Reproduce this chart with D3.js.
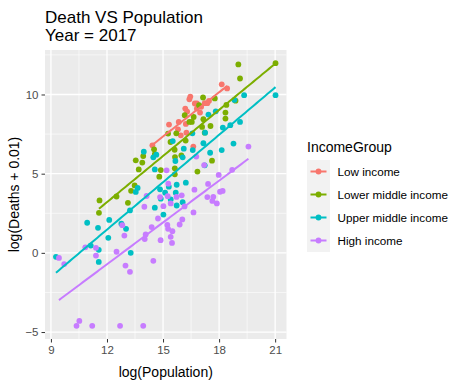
<!DOCTYPE html>
<html>
<head>
<meta charset="utf-8">
<script src="https://cdn.jsdelivr.net/npm/d3@7"></script>
<style>
  body { margin: 0; background: #fff; }
  text { font-family: "Liberation Sans", Arial, sans-serif; }
</style>
</head>
<body>
<div id="chart"></div>
<script>
// groups, in legend order
var groups = ["Low income", "Lower middle income", "Upper middle income", "High income"];
var colors = ["#F8766D", "#7CAE00", "#00BFC4", "#C77CFF"];

// log(Population), log(Deaths + 0.01)
var lowX = [18.14, 18.43, 16.46, 16.41, 16.70, 16.81, 17.23, 17.37, 17.04, 16.19, 16.29,
            16.81, 16.98, 15.84, 15.32, 16.22, 15.80, 16.25, 15.95, 14.43, 16.62, 17.46];
var lowY = [10.64, 10.38, 9.87, 9.70, 9.43, 9.43, 9.45, 9.45, 9.22, 9.11, 8.92,
            9.11, 8.86, 8.27, 8.10, 8.14, 7.80, 7.59, 7.42, 6.79, 6.71, 9.60];

var lmX = [19.03, 21.02, 19.12, 17.14, 17.77, 18.88, 16.93, 18.39, 18.34, 18.34, 16.16,
           16.64, 16.41, 16.54, 17.16, 17.54, 17.09, 17.23, 15.27, 15.71, 16.21, 15.40,
           14.52, 15.62, 13.54, 13.94, 13.89, 13.70, 15.64, 15.98, 15.63, 14.80, 17.62,
           16.84, 13.48, 13.29, 12.51, 11.60, 13.12, 11.57, 14.56, 14.88, 15.63];
var lmY = [11.90, 11.98, 11.01, 9.81, 9.75, 9.61, 9.32, 9.34, 8.86, 8.48, 8.69,
           8.58, 8.27, 8.27, 8.44, 8.01, 7.95, 7.59, 7.53, 7.55, 7.09, 7.00,
           6.54, 6.51, 5.84, 6.11, 5.70, 5.27, 6.05, 6.16, 5.34, 4.81, 5.82,
           5.13, 4.26, 3.92, 3.56, 3.31, 3.16, 2.53, 6.24, 5.23, 4.96];

var umX = [21.02, 19.34, 18.82, 17.82, 17.43, 19.12, 18.60, 18.20, 17.25, 16.57, 15.52,
           18.77, 17.16, 16.11, 16.59, 18.14, 17.52, 13.97, 14.64, 14.48, 16.05, 15.66,
           17.23, 14.56, 16.22, 15.73, 13.64, 13.54, 14.84, 15.11, 15.41, 14.88, 15.68,
           15.31, 15.73, 16.05, 13.23, 14.56, 15.02, 10.94, 12.12, 11.52, 12.77, 13.02,
           12.07, 11.13, 11.56, 13.27, 11.56, 9.27];
var umY = [9.96, 9.96, 9.66, 8.94, 8.73, 8.27, 8.06, 7.91, 7.59, 7.55, 7.06,
           6.90, 6.92, 6.58, 6.49, 6.49, 6.32, 6.39, 6.20, 6.03, 6.03, 5.80,
           5.53, 5.27, 4.43, 4.30, 4.10, 3.85, 4.01, 3.80, 3.37, 3.42, 3.80,
           4.18, 2.99, 3.20, 2.68, 2.85, 2.42, 1.90, 2.08, 1.58, 1.84, 1.52,
           0.95, 0.46, 0.19, 0.00, -0.57, -0.25];

var hiX = [19.57, 18.70, 17.98, 17.41, 16.78, 15.19, 15.28, 16.68, 18.05, 18.19, 17.69,
           17.37, 17.64, 17.88, 14.12, 15.72, 16.00, 15.25, 14.84, 17.20, 14.00, 15.02,
           15.41, 16.15, 16.63, 14.73, 16.03, 15.89, 15.23, 15.27, 15.50, 15.41, 14.39,
           14.07, 14.02, 14.87, 15.48, 12.82, 12.93, 12.51, 11.41, 11.41, 10.84, 9.43,
           9.71, 14.48, 12.99, 13.23, 10.37, 10.52, 11.21, 12.70, 13.94];
var hiY = [6.71, 5.24, 4.92, 4.35, 6.08, 5.21, 4.37, 3.99, 3.86, 3.91, 3.54,
           3.52, 3.28, 3.12, 3.59, 3.53, 3.63, 3.58, 3.52, 5.54, 2.91, 2.95,
           3.12, 2.93, 2.55, 2.17, 2.11, 1.79, 1.76, 1.52, 1.37, 1.01, 1.63,
           1.16, 0.87, 0.80, 0.63, 1.75, 1.09, 0.07, 0.32, -0.17, 0.35, -0.32,
           -0.71, -0.50, -0.80, -1.20, -4.61, -4.30, -4.61, -4.61, -4.61];

var xTicks = [9, 12, 15, 18, 21];
var yTicks = [-5, 0, 5, 10];

var seriesX = [lowX, lmX, umX, hiX];
var seriesY = [lowY, lmY, umY, hiY];

var data = [];
groups.forEach(function(g, i) {
  seriesX[i].forEach(function(v, j) {
    data.push({ g: i, x: v, y: seriesY[i][j] });
  });
});

var W = 468, H = 384;
var margin = {top: 50, left: 45, right: 181.5, bottom: 45};
var width = W - margin.left - margin.right,
    height = H - margin.top - margin.bottom;

var svg = d3.select("#chart").append("svg")
    .attr("width", W).attr("height", H);

// ggplot-like 5% expansion
function expand(ext) {
  var d = (ext[1] - ext[0]) * 0.05;
  return [ext[0] - d, ext[1] + d];
}
var x = d3.scaleLinear().domain(expand(d3.extent(data, d => d.x))).range([0, width]);
var y = d3.scaleLinear().domain(expand(d3.extent(data, d => d.y))).range([height, 0]);

var g = svg.append("g").attr("transform", "translate(" + margin.left + "," + margin.top + ")");

g.append("rect").attr("width", width).attr("height", height).attr("fill", "#EBEBEB");

// minor grid
var xMinor = d3.range(xTicks.length - 1).map(i => (xTicks[i] + xTicks[i + 1]) / 2)
  .concat([xTicks[0] - 1.5, xTicks[xTicks.length - 1] + 1.5])
  .filter(v => v > x.domain()[0] && v < x.domain()[1]);
var yMinor = d3.range(yTicks.length - 1).map(i => (yTicks[i] + yTicks[i + 1]) / 2)
  .concat([yTicks[0] - 2.5, yTicks[yTicks.length - 1] + 2.5])
  .filter(v => v > y.domain()[0] && v < y.domain()[1]);

g.selectAll(".xminor").data(xMinor).enter().append("line")
  .attr("x1", d => x(d)).attr("x2", d => x(d)).attr("y1", 0).attr("y2", height)
  .attr("stroke", "#fff").attr("stroke-width", 0.6);
g.selectAll(".yminor").data(yMinor).enter().append("line")
  .attr("y1", d => y(d)).attr("y2", d => y(d)).attr("x1", 0).attr("x2", width)
  .attr("stroke", "#fff").attr("stroke-width", 0.6);
g.selectAll(".xmajor").data(xTicks).enter().append("line")
  .attr("x1", d => x(d)).attr("x2", d => x(d)).attr("y1", 0).attr("y2", height)
  .attr("stroke", "#fff").attr("stroke-width", 1.3);
g.selectAll(".ymajor").data(yTicks).enter().append("line")
  .attr("y1", d => y(d)).attr("y2", d => y(d)).attr("x1", 0).attr("x2", width)
  .attr("stroke", "#fff").attr("stroke-width", 1.3);

// axes
var xAxis = g.append("g").attr("transform", "translate(0," + height + ")")
  .call(d3.axisBottom(x).tickValues(xTicks).tickSize(3.5).tickPadding(3));
var yAxis = g.append("g")
  .call(d3.axisLeft(y).tickValues(yTicks).tickSize(3.5).tickPadding(3));
[xAxis, yAxis].forEach(function(a) {
  a.select(".domain").remove();
  a.selectAll("line").attr("stroke", "#333333");
  a.selectAll("text").attr("fill", "#4D4D4D").style("font-size", "11.5px")
    .style("font-family", "'Liberation Sans', Arial, sans-serif");
});

// points
g.selectAll("circle.pt").data(data).enter().append("circle")
  .attr("class", "pt")
  .attr("cx", d => x(d.x)).attr("cy", d => y(d.y)).attr("r", 2.9)
  .attr("fill", d => colors[d.g]);

// lm fit per group
function fit(xs, ys) {
  var mx = d3.mean(xs), my = d3.mean(ys);
  var sxy = d3.sum(xs, (v, i) => (v - mx) * (ys[i] - my));
  var sxx = d3.sum(xs, v => (v - mx) * (v - mx));
  var b = sxy / sxx, a = my - b * mx;
  var ext = d3.extent(xs);
  return d3.range(0, 81).map(function(k) {
    var xv = ext[0] + (ext[1] - ext[0]) * k / 80;
    return { x: xv, y: a + b * xv };
  });
}
var line = d3.line().x(d => x(d.x)).y(d => y(d.y));
groups.forEach(function(gr, i) {
  g.append("path").datum(fit(seriesX[i], seriesY[i]))
    .attr("d", line).attr("fill", "none")
    .attr("stroke", colors[i]).attr("stroke-width", 2);
});

// titles
svg.append("text").attr("x", 45).attr("y", 22.5).text("Death VS Population")
  .style("font-size", "17px").attr("fill", "#000");
svg.append("text").attr("x", 45).attr("y", 41).text("Year = 2017")
  .style("font-size", "17px").attr("fill", "#000");

svg.append("text").attr("x", margin.left + width / 2).attr("y", 377)
  .attr("text-anchor", "middle").text("log(Population)")
  .style("font-size", "14px").attr("fill", "#000");
svg.append("text")
  .attr("transform", "translate(19," + (margin.top + height / 2) + ") rotate(-90)")
  .attr("text-anchor", "middle").text("log(Deaths + 0.01)")
  .style("font-size", "14px").attr("fill", "#000");

// legend
var lg = svg.append("g").attr("transform", "translate(307,160)");
lg.append("text").attr("x", 0).attr("y", -8.5).text("IncomeGroup")
  .style("font-size", "14px").attr("fill", "#000");
var items = lg.selectAll(".item").data(groups).enter().append("g")
  .attr("transform", (d, i) => "translate(0," + (i * 23) + ")");
items.append("rect").attr("width", 23).attr("height", 23).attr("fill", "#F2F2F2");
items.append("line").attr("x1", 3.5).attr("x2", 19.5).attr("y1", 11.5).attr("y2", 11.5)
  .attr("stroke", (d, i) => colors[i]).attr("stroke-width", 2);
items.append("circle").attr("cx", 11.5).attr("cy", 11.5).attr("r", 2.9)
  .attr("fill", (d, i) => colors[i]);
items.append("text").attr("x", 30.5).attr("y", 15.5).text(d => d)
  .style("font-size", "11.7px").attr("fill", "#000");
</script>
</body>
</html>
